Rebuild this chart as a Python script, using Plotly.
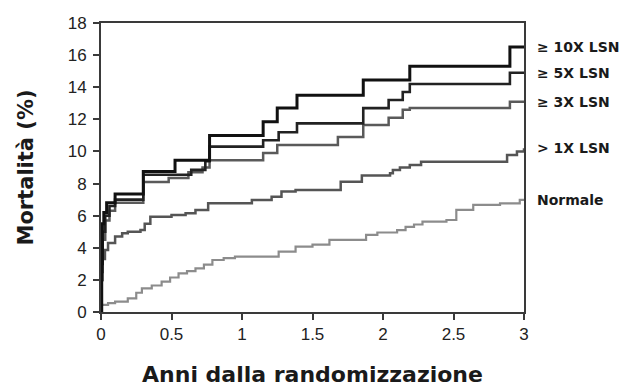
import plotly.graph_objects as go

# ---- data ----
x_10x = [0, 0.005, 0.01, 0.02, 0.04, 0.1, 0.3, 0.525, 0.77, 1.15, 1.25, 1.39, 1.86, 2.19, 2.9, 3.0]
y_10x = [0, 3.0, 5.5, 6.2, 6.8, 7.35, 8.75, 9.45, 11.0, 11.85, 12.7, 13.5, 14.45, 15.3, 16.5, 16.5]

x_5x = [0, 0.005, 0.01, 0.03, 0.06, 0.1, 0.3, 0.64, 0.74, 0.77, 1.15, 1.26, 1.39, 1.86, 2.04, 2.14, 2.19, 2.9, 3.0]
y_5x = [0, 2.5, 5.0, 6.0, 6.6, 7.0, 8.55, 8.85, 9.4, 10.3, 10.7, 11.2, 11.75, 12.7, 13.2, 13.7, 14.2, 14.9, 14.9]

x_3x = [0, 0.005, 0.01, 0.03, 0.06, 0.1, 0.3, 0.48, 0.62, 0.72, 0.77, 1.15, 1.25, 1.68, 1.86, 2.04, 2.14, 2.19, 2.9, 3.0]
y_3x = [0, 2.0, 4.5, 5.7, 6.3, 6.8, 8.1, 8.35, 8.7, 9.0, 9.45, 9.9, 10.4, 10.9, 11.65, 12.1, 12.6, 12.7, 13.1, 13.1]

x_1x = [0, 0.003, 0.01, 0.028, 0.05, 0.1, 0.15, 0.19, 0.28, 0.31, 0.35, 0.5, 0.6, 0.67, 0.76, 1.02, 1.07,
        1.21, 1.28, 1.38, 1.62, 1.70, 1.85, 2.05, 2.07, 2.12, 2.19, 2.27, 2.85, 2.88, 2.95, 3.0]
y_1x = [0, 2.0, 3.3, 3.86, 4.3, 4.7, 4.9, 5.0, 5.1, 5.5, 5.94, 6.04, 6.15, 6.35, 6.77, 6.77, 6.98,
        7.18, 7.5, 7.6, 7.6, 8.12, 8.5, 8.64, 8.85, 9.0, 9.16, 9.36, 9.36, 9.78, 9.99, 10.2]

x_norm = [0, 0.005, 0.05, 0.1, 0.19, 0.25, 0.29, 0.36, 0.43, 0.49, 0.55, 0.61, 0.67, 0.73, 0.79, 0.87, 0.95,
          1.14, 1.26, 1.38, 1.5, 1.62, 1.84, 1.88, 1.96, 2.10, 2.16, 2.22, 2.28, 2.45, 2.52, 2.64, 2.83, 2.97, 3.0]
y_norm = [0, 0.44, 0.55, 0.64, 0.85, 1.2, 1.47, 1.65, 1.89, 2.15, 2.41, 2.55, 2.72, 2.95, 3.24, 3.35, 3.45,
          3.45, 3.76, 4.07, 4.2, 4.49, 4.49, 4.8, 4.95, 5.1, 5.3, 5.45, 5.63, 5.73, 6.36, 6.67, 6.77, 6.98, 7.0]

series_names = ["≥ 10X LSN", "≥ 5X LSN", "≥ 3X LSN", "> 1X LSN", "Normale"]
series_x = [x_10x, x_5x, x_3x, x_1x, x_norm]
series_y = [y_10x, y_5x, y_3x, y_1x, y_norm]
series_colors = ["#111111", "#222222", "#5a5a5a", "#555555", "#8c8c8c"]
series_widths = [3, 2.6, 2.5, 2.5, 2.2]

x_ticks = [0, 0.5, 1, 1.5, 2, 2.5, 3]
x_ticklabels = ["0", "0.5", "1", "1.5", "2", "2.5", "3"]
y_ticks = [0, 2, 4, 6, 8, 10, 12, 14, 16, 18]

x_title = "Anni dalla randomizzazione"
y_title = "Mortalità (%)"

fig = go.Figure()
# draw lighter lines first so dark ones stay on top
for i in reversed(range(len(series_names))):
    fig.add_trace(go.Scatter(
        x=series_x[i], y=series_y[i], mode="lines", name=series_names[i],
        line=dict(color=series_colors[i], width=series_widths[i], shape="hv"),
        showlegend=False, hoverinfo="skip"))

for i, name in enumerate(series_names):
    fig.add_annotation(
        x=1, xref="paper", y=series_y[i][-1], yref="y",
        xanchor="left", yanchor="middle", xshift=11,
        text=name, showarrow=False,
        font=dict(family="DejaVu Sans", size=14, color="#1a1a1a", weight="bold"))

axis_common = dict(
    showline=True, linecolor="#3a3a3a", linewidth=2, mirror=True,
    ticks="outside", ticklen=6, tickwidth=2, tickcolor="#3a3a3a",
    showgrid=False, zeroline=False, automargin=False,
    tickfont=dict(family="Liberation Sans, Arial", size=17, color="#222222"),
)

fig.update_layout(
    width=624, height=387,
    margin=dict(l=101, r=100, t=23, b=75),
    paper_bgcolor="white", plot_bgcolor="white",
    xaxis=dict(range=[0, 3], tickvals=x_ticks, ticktext=x_ticklabels,
               title=dict(text=x_title, standoff=25,
                          font=dict(family="DejaVu Sans", size=22, color="#1a1a1a", weight="bold")),
               **axis_common),
    yaxis=dict(range=[0, 18], tickvals=y_ticks, ticklabelstandoff=3,
               title=dict(text=y_title, standoff=28,
                          font=dict(family="DejaVu Sans", size=21, color="#1a1a1a", weight="bold")),
               **axis_common),
)

# remove the page's default body margin so the figure sits at the window's top-left corner
fig.write_html("out.html", config={"displayModeBar": False},
               post_script="document.body.style.margin='0';")
